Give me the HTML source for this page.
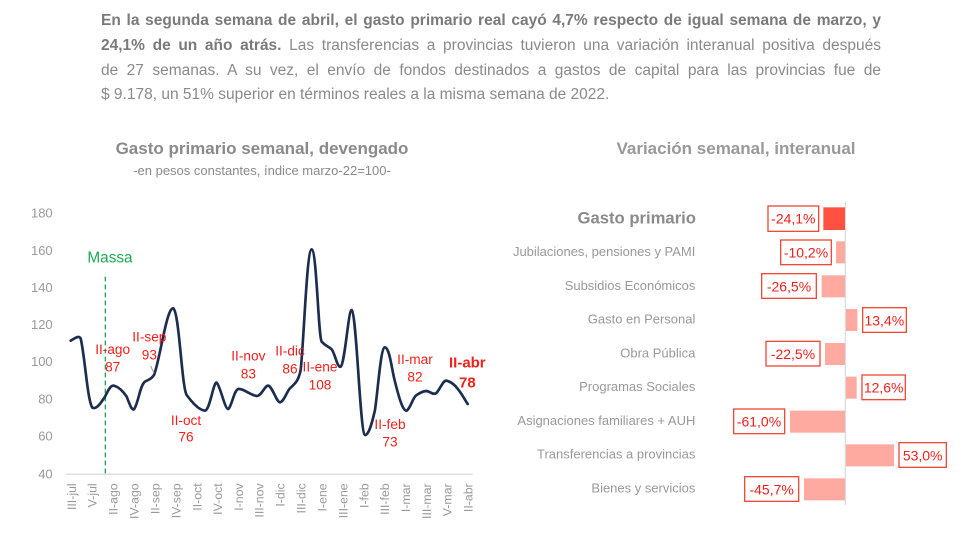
<!DOCTYPE html>
<html><head><meta charset="utf-8"><style>
body{margin:0;width:980px;height:546px;background:#fff;font-family:"Liberation Sans",sans-serif;overflow:hidden;position:relative}
.l{position:absolute;left:101px;width:780px;font-size:15.5px;color:#8a8a8a;white-space:nowrap;text-align:justify;text-align-last:justify}
.l b{color:#7a7a7a}
</style></head><body>
<div class="l" style="top:12px"><b>En la segunda semana de abril, el gasto primario real cayó 4,7% respecto de igual semana de marzo, y</b></div>
<div class="l" style="top:37px"><b>24,1% de un año atrás.</b> Las transferencias a provincias tuvieron una variación interanual positiva después</div>
<div class="l" style="top:62px">de 27 semanas. A su vez, el envío de fondos destinados a gastos de capital para las provincias fue de</div>
<div class="l" style="top:86px;text-align-last:left;width:auto">$ 9.178, un 51% superior en términos reales a la misma semana de 2022.</div>
<svg width="980" height="546" style="position:absolute;left:0;top:0" font-family="Liberation Sans, sans-serif">
<text x="262" y="154" text-anchor="middle" font-size="17" font-weight="bold" fill="#8a8a8a">Gasto primario semanal, devengado</text>
<text x="262" y="175" text-anchor="middle" font-size="13" fill="#8a8a8a">-en pesos constantes, índice marzo-22=100-</text>
<text x="736" y="154" text-anchor="middle" font-size="17" font-weight="bold" fill="#999">Variación semanal, interanual</text>
<g transform="translate(30,200) scale(0.33333)">
<g font-size="39" fill="#999" text-anchor="end">
<text x="68" y="52">180</text><text x="68" y="165">160</text><text x="68" y="276">140</text><text x="68" y="387">120</text><text x="68" y="498">100</text><text x="68" y="611">80</text><text x="68" y="722">60</text><text x="68" y="835">40</text>
</g>
<line x1="108" y1="823" x2="1328" y2="823" stroke="#ddd" stroke-width="4"/>
<line x1="226" y1="230" x2="226" y2="823" stroke="#1aab52" stroke-width="4" stroke-dasharray="14,10"/>
<text x="240" y="188" font-size="46" fill="#1aab52" text-anchor="middle">Massa</text>
<path fill="none" stroke="#1d2d4f" stroke-width="8" stroke-linejoin="round" stroke-linecap="round" d="M122,422 C135,415 145,405 152,415 C165,470 172,600 187,623 C200,630 215,605 225,590 C235,570 242,555 252,557 C268,562 280,575 290,590 C298,610 305,632 312,628 C325,610 330,555 345,545 C355,538 362,540 372,525 C390,480 410,320 430,325 C448,340 455,560 470,585 C485,605 505,630 525,632 C540,630 550,545 560,548 C570,555 585,630 595,627 C605,620 612,570 625,567 C640,565 660,585 680,588 C695,588 705,555 715,557 C727,560 740,607 750,607 C762,605 770,575 780,565 C795,550 805,545 812,510 C822,420 830,150 845,148 C860,150 865,410 875,425 C888,440 898,440 905,448 C915,460 922,505 932,500 C945,490 955,330 965,330 C980,340 990,700 1005,705 C1018,705 1028,660 1035,630 C1045,560 1052,442 1065,442 C1080,445 1085,510 1095,545 C1105,585 1118,635 1130,632 C1142,625 1148,592 1160,585 C1172,577 1180,573 1190,573 C1202,575 1208,585 1218,580 C1230,570 1238,540 1250,542 C1262,545 1272,552 1282,565 C1295,580 1305,600 1313,612"/>
<path d="M362,498 L372,520" stroke="#999" stroke-width="3"/>
<g fill="#f2201c" font-size="41" text-anchor="middle">
<text x="248" y="462">II-ago</text><text x="248" y="514">87</text>
<text x="358" y="425">II-sep</text><text x="358" y="478">93</text>
<text x="468" y="675">II-oct</text><text x="468" y="725">76</text>
<text x="655" y="482">II-nov</text><text x="655" y="535">83</text>
<text x="780" y="467">II-dic</text><text x="780" y="520">86</text>
<text x="870" y="515">II-ene</text><text x="870" y="568">108</text>
<text x="1080" y="687">II-feb</text><text x="1080" y="740">73</text>
<text x="1155" y="492">II-mar</text><text x="1155" y="545">82</text>
<text x="1312" y="502" font-weight="bold" font-size="45">II-abr</text><text x="1312" y="562" font-weight="bold" font-size="45">78</text>
</g>
<g font-size="37" fill="#999" text-anchor="end">
<text transform="translate(138,850) rotate(-90)">III-jul</text>
<text transform="translate(200,850) rotate(-90)">V-jul</text>
<text transform="translate(263,850) rotate(-90)">II-ago</text>
<text transform="translate(326,850) rotate(-90)">IV-ago</text>
<text transform="translate(388,850) rotate(-90)">II-sep</text>
<text transform="translate(451,850) rotate(-90)">IV-sep</text>
<text transform="translate(514,850) rotate(-90)">II-oct</text>
<text transform="translate(576,850) rotate(-90)">IV-oct</text>
<text transform="translate(639,850) rotate(-90)">I-nov</text>
<text transform="translate(701,850) rotate(-90)">III-nov</text>
<text transform="translate(764,850) rotate(-90)">I-dic</text>
<text transform="translate(827,850) rotate(-90)">III-dic</text>
<text transform="translate(889,850) rotate(-90)">I-ene</text>
<text transform="translate(952,850) rotate(-90)">III-ene</text>
<text transform="translate(1015,850) rotate(-90)">I-feb</text>
<text transform="translate(1077,850) rotate(-90)">III-feb</text>
<text transform="translate(1140,850) rotate(-90)">I-mar</text>
<text transform="translate(1203,850) rotate(-90)">III-mar</text>
<text transform="translate(1265,850) rotate(-90)">V-mar</text>
<text transform="translate(1328,850) rotate(-90)">II-abr</text>
</g>
</g>
<g transform="translate(500,190) scale(0.33333)">
<line x1="1036" y1="35" x2="1036" y2="945" stroke="#ddd" stroke-width="4"/>
<g font-size="39" fill="#999" text-anchor="end">
<text x="588" y="100" font-size="50" font-weight="bold" fill="#8a8a8a">Gasto primario</text>
<text x="586" y="198">Jubilaciones, pensiones y PAMI</text>
<text x="586" y="300">Subsidios Económicos</text>
<text x="586" y="401">Gasto en Personal</text>
<text x="586" y="503">Obra Pública</text>
<text x="586" y="603">Programas Sociales</text>
<text x="586" y="705">Asignaciones familiares + AUH</text>
<text x="586" y="806">Transferencias a provincias</text>
<text x="586" y="908">Bienes y servicios</text>
</g>
<rect x="970" y="52" width="65" height="68" fill="#ff5040"/>
<g fill="#ffaaa0">
<rect x="1008" y="154" width="27" height="66"/>
<rect x="965" y="256" width="70" height="66"/>
<rect x="1038" y="357" width="34" height="66"/>
<rect x="975" y="459" width="60" height="66"/>
<rect x="1038" y="560" width="32" height="66"/>
<rect x="870" y="662" width="165" height="66"/>
<rect x="1038" y="763" width="144" height="66"/>
<rect x="912" y="865" width="123" height="66"/>
</g>
<g fill="#fff" stroke="#f04a3a" stroke-width="4">
<rect x="804" y="48" width="152" height="76"/>
<rect x="842" y="150" width="152" height="74"/>
<rect x="785" y="251" width="164" height="74"/>
<rect x="1088" y="353" width="131" height="74"/>
<rect x="798" y="454" width="162" height="74"/>
<rect x="1086" y="555" width="130" height="74"/>
<rect x="701" y="657" width="153" height="74"/>
<rect x="1197" y="758" width="142" height="74"/>
<rect x="734" y="860" width="162" height="74"/>
</g>
<g fill="#f2201c" font-size="42" text-anchor="middle">
<text x="880" y="101">-24,1%</text>
<text x="918" y="202">-10,2%</text>
<text x="867" y="304">-26,5%</text>
<text x="1153" y="406">13,4%</text>
<text x="879" y="507">-22,5%</text>
<text x="1151" y="608">12,6%</text>
<text x="777" y="710">-61,0%</text>
<text x="1268" y="811">53,0%</text>
<text x="815" y="913">-45,7%</text>
</g>
</g>
</svg>
</body></html>
